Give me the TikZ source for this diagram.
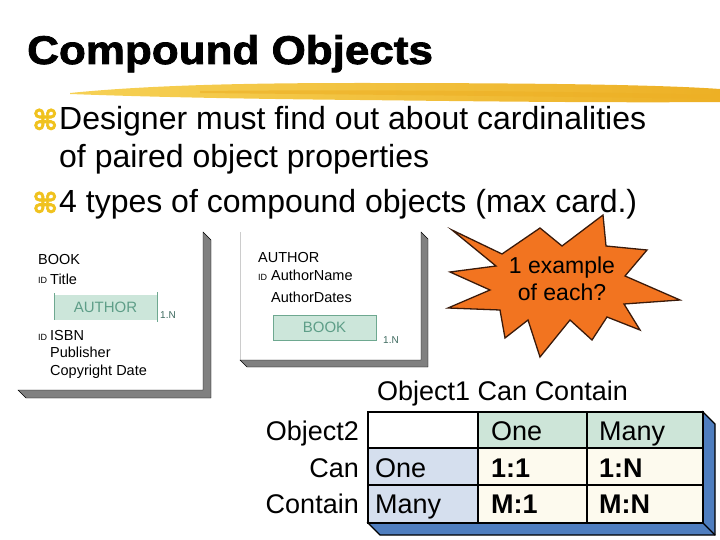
\documentclass[tikz,border=0pt]{standalone}
\usepackage{fontspec}
\setmainfont{Liberation Sans}
\newfontfamily\titlefont[FakeBold=2,FakeStretch=1.1]{Liberation Sans Bold}
\newfontfamily\bulletfont[FakeBold=2.5]{DejaVu Sans Bold}
\usetikzlibrary{calc}
\definecolor{brushlight}{HTML}{F6D155}
\definecolor{brushgold}{HTML}{EDB025}
\definecolor{bulletgold}{HTML}{F0C21E}
\definecolor{starorange}{HTML}{F27420}
\definecolor{starline}{HTML}{3A1A0A}
\definecolor{formgreen}{HTML}{CCE6DA}
\definecolor{formgreentext}{HTML}{5E9E88}
\definecolor{formgreenline}{HTML}{6EA890}
\definecolor{cardtext}{HTML}{3F6B60}
\definecolor{headgreen}{HTML}{CDE5D8}
\definecolor{rowblue}{HTML}{D5DFEE}
\definecolor{cellcream}{HTML}{FDFAEE}
\definecolor{slabblue}{HTML}{4F7EBF}
\definecolor{shadowgray}{HTML}{808080}

\begin{document}
\begin{tikzpicture}[x=1pt,y=-1pt,
    bodytext/.style={anchor=base west,inner sep=0pt,font=\fontsize{32}{36}\selectfont},
    bulletmark/.style={anchor=base west,inner sep=0pt,text=bulletgold,font=\bulletfont\fontsize{28}{32}\selectfont},
    formtext/.style={anchor=base west,inner sep=0pt,font=\fontsize{14.5}{16}\selectfont},
    idtag/.style={anchor=base west,inner sep=0pt,font=\fontsize{9}{10}\selectfont},
    cardtag/.style={anchor=base west,inner sep=0pt,text=cardtext,font=\fontsize{10}{12}\selectfont},
    formlink/.style={inner sep=0pt,text=formgreentext,font=\fontsize{15}{18}\selectfont},
    tabletext/.style={anchor=base west,inner sep=0pt,font=\fontsize{27}{32}\selectfont},
    tablelabel/.style={anchor=base east,inner sep=0pt,font=\fontsize{27}{32}\selectfont},
    startext/.style={anchor=base,inner sep=0pt,font=\fontsize{23}{27}\selectfont}]
    \useasboundingbox (0,0) rectangle (720,540);

    % Title
    \node (title) [anchor=base west,inner sep=0pt,font=\titlefont\fontsize{40}{44}\selectfont] at (27,64) {Compound Objects};

    % Brush stroke
    \shade[left color=brushlight,right color=brushgold]
        (70,93) .. controls (150,85) and (250,83) .. (360,83)
        .. controls (500,83) and (650,84) .. (720,89) -- (720,102)
        .. controls (600,103) and (450,101) .. (360,100)
        .. controls (250,99) and (150,97) .. (70,94) -- cycle;
    \fill[brushgold,opacity=0.6] (200,91) .. controls (400,89) and (600,92) .. (718,95)
        -- (718,99) .. controls (600,97) and (400,95) .. (200,93) -- cycle;

    % Bullets
    \node (bulletA) [bulletmark] at (32,130) {⌘};
    \node (lineA) [bodytext] at (59,130) {Designer must find out about cardinalities};
    \node (lineB) [bodytext] at (59,168) {of paired object properties};
    \node (bulletB) [bulletmark] at (32,213) {⌘};
    \node (lineC) [bodytext] at (59,213) {4 types of compound objects (max card.)};

    % Form: BOOK
    \fill[white] (18,232) rectangle (203,390);
    \draw[fill=shadowgray] (203,232) -- (211,240) -- (211,398) -- (26,398) -- (18,390) -- (203,390) -- cycle;
    \node (bookHead) [formtext] at (38,264) {BOOK};
    \node (bookIdA) [idtag] at (38,283) {ID};
    \node (bookTitle) [formtext] at (50,284) {Title};
    \fill[formgreen] (54,295) rectangle (157,320);
    \draw[formgreenline,thick] (54,293) -- (54,320) (157,292) -- (157,322);
    \node (bookAuthor) [formlink] at (105.5,307.5) {AUTHOR};
    \node (bookCard) [cardtag] at (160,318) {1.N};
    \node (bookIdB) [idtag] at (38,340) {ID};
    \node (bookIsbn) [formtext] at (50,340) {ISBN};
    \node (bookPub) [formtext] at (50,357) {Publisher};
    \node (bookCopy) [formtext] at (50,375) {Copyright Date};

    % Form: AUTHOR
    \fill[white] (240,232) rectangle (421,360);
    \draw[gray!40] (240,232) -- (240,360);
    \draw[fill=shadowgray] (421,232) -- (428,239) -- (428,367) -- (247,367) -- (240,360) -- (421,360) -- cycle;
    \node (authHead) [formtext] at (258,262) {AUTHOR};
    \node (authId) [idtag] at (258,280) {ID};
    \node (authName) [formtext] at (271,280) {AuthorName};
    \node (authDates) [formtext] at (271,302) {AuthorDates};
    \draw[formgreenline,fill=formgreen,thick] (273,315) rectangle (376,340);
    \node (authBook) [formlink] at (324.5,327.5) {BOOK};
    \node (authCard) [cardtag] at (383,343) {1.N};

    % Starburst
    \draw[fill=starorange,draw=starline,line width=1.3pt,line join=miter]
        (452,230) -- (502,254) -- (540,228) -- (562,246) -- (603,215) -- (606,246)
        -- (647,250) -- (625,276) -- (680,300) -- (624,304) -- (640,330) -- (607,317)
        -- (592,340) -- (570,320) -- (540,357) -- (528,320) -- (505,338) -- (500,310)
        -- (448,308) -- (490,290) -- (450,272) -- (496,266) -- cycle;
    \node (starA) [startext] at (562,273) {1 example};
    \node (starB) [startext] at (562,300) {of each?};

    % Cardinality table
    \node (tableHead) [tabletext] at (377,400) {Object1 Can Contain};
    \draw[fill=slabblue,line width=1.2pt] (703,412) -- (715,424) -- (715,535) -- (380,535) -- (368,523) -- (703,523) -- cycle;
    \draw[line width=1.2pt] (703,523) -- (715,535);
    \fill[white] (368,412) rectangle (478,448);
    \fill[headgreen] (478,412) rectangle (703,448);
    \fill[rowblue] (368,448) rectangle (478,523);
    \fill[cellcream] (478,448) rectangle (703,523);
    \draw[line width=1.5pt] (368,412) rectangle (703,523);
    \draw[line width=1.5pt] (478,412) -- (478,523) (587,412) -- (587,523)
        (368,448) -- (703,448) (368,485) -- (703,485);
    \node (rowObj) [tablelabel] at (359,440) {Object2};
    \node (rowCan) [tablelabel] at (359,477) {Can};
    \node (rowContain) [tablelabel] at (359,513) {Contain};
    \node (colOne) [tabletext] at (491,440) {One};
    \node (colMany) [tabletext] at (599,440) {Many};
    \node (rowOne) [tabletext] at (375,477) {One};
    \node (rowMany) [tabletext] at (375,513) {Many};
    \node (cellOO) [tabletext,font=\bfseries\fontsize{27}{32}\selectfont] at (491,477) {1:1};
    \node (cellOM) [tabletext,font=\bfseries\fontsize{27}{32}\selectfont] at (599,477) {1:N};
    \node (cellMO) [tabletext,font=\bfseries\fontsize{27}{32}\selectfont] at (491,513) {M:1};
    \node (cellMM) [tabletext,font=\bfseries\fontsize{27}{32}\selectfont] at (599,513) {M:N};
\end{tikzpicture}
\end{document}
